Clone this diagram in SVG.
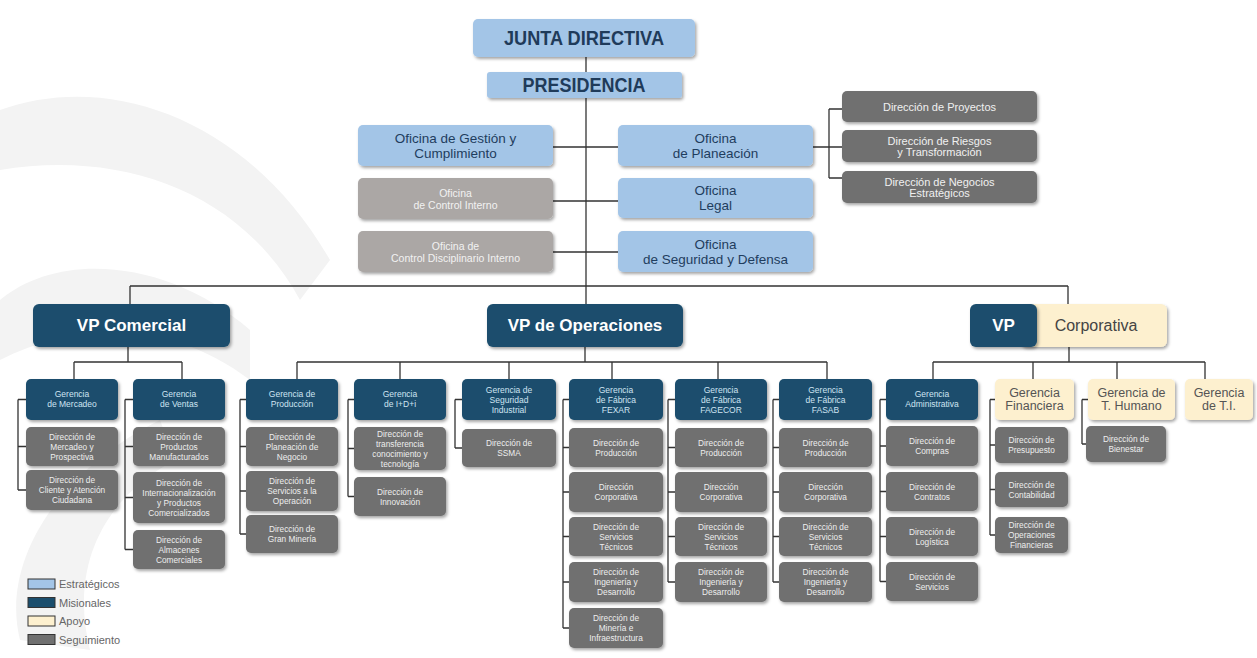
<svg xmlns="http://www.w3.org/2000/svg" width="1257" height="658" viewBox="0 0 1257 658">
<defs>
<filter id="sh" x="-10%" y="-10%" width="130%" height="140%">
<feDropShadow dx="1.5" dy="2" stdDeviation="1.5" flood-color="#000" flood-opacity="0.35"/>
</filter>
<style>
.s{fill:#a3c5e7;filter:url(#sh)}
.m{fill:#1b4e6d;filter:url(#sh)}
.a{fill:#fdf0cf;filter:url(#sh)}
.g{fill:#707070;filter:url(#sh)}
.lg{fill:#aba7a5;filter:url(#sh)}
.c{fill:none;stroke:#333;stroke-width:1.3}
text{font-family:"Liberation Sans",Arial,sans-serif;text-anchor:middle}
.h{font-weight:bold;fill:#1f3b5a;font-size:20px}
.o{fill:#1f3d5e;font-size:13.5px}
.og{fill:#f2f2f2;font-size:10.5px}
.dp{fill:#f0f0f0;font-size:11px}
.vp{fill:#fff;font-weight:bold;font-size:17px}
.gm{fill:#cfe4f2;font-size:8.5px}
.d{fill:#eeeeee;font-size:8.3px}
.ga{fill:#555;font-size:12.5px}
.lt{fill:#666;font-size:11px;text-anchor:start}
.sw{stroke:#333;stroke-width:1}
</style>
</defs>
<rect width="1257" height="658" fill="#fff"/>
<g id="watermark" fill="#f3f3f3">
<path d="M0 110 C110 70 250 120 330 260 L300 300 C240 190 120 150 0 170 Z"/>
<path d="M0 300 C60 250 170 260 250 330 L250 380 C170 320 80 320 0 360 Z"/>
<path d="M20 640 C0 560 60 470 160 420 L175 460 C100 500 70 570 90 650 Z"/>
</g>

<g id="connectors" class="c">
<path d="M586 57 V305"/>
<path d="M553 147 H618 M553 201 H618 M553 252 H618"/>
<path d="M813 147 H829 M829 109 V178 M829 109 H842 M829 147 H842 M829 178 H842"/>
<path d="M130 286 H1068 M130 286 V304 M1068 286 V304"/>
<path d="M128 347 V362 M74 362 H182 M74 362 V379 M182 362 V379"/>
<path d="M585 347 V362 M297 362 H827 M297 362 V379 M400 362 V379 M509 362 V379 M612 362 V379 M718 362 V379 M827 362 V379"/>
<path d="M1069 347 V362 M933 362 H1205 M933 362 V379 M1033 362 V379 M1117 362 V379 M1205 362 V379"/>
<path d="M18 399.5 V490 M18 399.5 H26 M18 446.5 H26 M18 490 H26"/>
<path d="M125 399.5 V549.5 M125 399.5 H133 M125 446.5 H133 M125 497.5 H133 M125 549.5 H133"/>
<path d="M240 399.5 V534 M240 399.5 H246 M240 446.5 H246 M240 491 H246 M240 534 H246"/>
<path d="M348 399.5 V496.5 M348 399.5 H354 M348 448.5 H354 M348 496.5 H354"/>
<path d="M455 399.5 V448 M455 399.5 H462 M455 448 H462"/>
<path d="M563 399.5 V628 M563 399.5 H569 M563 447.5 H569 M563 492 H569 M563 536.5 H569 M563 582 H569 M563 628 H569"/>
<path d="M668 399.5 V582 M668 399.5 H675 M668 447.5 H675 M668 492 H675 M668 536.5 H675 M668 582 H675"/>
<path d="M773 399.5 V582 M773 399.5 H779 M773 447.5 H779 M773 492 H779 M773 536.5 H779 M773 582 H779"/>
<path d="M880 399.5 V581.5 M880 399.5 H886 M880 446 H886 M880 491.5 H886 M880 536.5 H886 M880 581.5 H886"/>
<path d="M990 399.5 V535 M990 399.5 H995 M990 445 H995 M990 489.5 H995 M990 535 H995"/>
<path d="M1082 399.5 V444 M1082 399.5 H1088 M1082 444 H1086"/>
</g>

<g id="junta"><rect class="s" x="473" y="19" width="222" height="38" rx="5"/><text class="h" x="584" y="45" textLength="160" lengthAdjust="spacingAndGlyphs">JUNTA DIRECTIVA</text></g>
<g id="presidencia"><rect class="s" x="487" y="72" width="195" height="26" rx="3"/><text class="h" x="584" y="92" font-size="19" textLength="123" lengthAdjust="spacingAndGlyphs">PRESIDENCIA</text></g>

<g id="of-gestion"><rect class="s" x="358" y="125" width="195" height="41" rx="5"/><text class="o" x="455.5"><tspan x="455.5" y="142.5">Oficina de Gestión y</tspan><tspan x="455.5" y="157.5">Cumplimiento</tspan></text></g>
<g id="of-planeacion"><rect class="s" x="618" y="125" width="195" height="41" rx="5"/><text class="o"><tspan x="715.5" y="142.5">Oficina</tspan><tspan x="715.5" y="157.5">de Planeación</tspan></text></g>
<g id="of-control"><rect class="lg" x="358" y="178" width="195" height="41" rx="5"/><text class="og"><tspan x="455.5" y="196.5">Oficina</tspan><tspan x="455.5" y="208.5">de Control Interno</tspan></text></g>
<g id="of-legal"><rect class="s" x="618" y="178" width="195" height="40" rx="5"/><text class="o"><tspan x="715.5" y="195">Oficina</tspan><tspan x="715.5" y="210">Legal</tspan></text></g>
<g id="of-disciplinario"><rect class="lg" x="358" y="231" width="195" height="41" rx="5"/><text class="og"><tspan x="455.5" y="249.5">Oficina de</tspan><tspan x="455.5" y="261.5">Control Disciplinario Interno</tspan></text></g>
<g id="of-seguridad"><rect class="s" x="618" y="231" width="195" height="41" rx="5"/><text class="o"><tspan x="715.5" y="248.5">Oficina</tspan><tspan x="715.5" y="263.5">de Seguridad y Defensa</tspan></text></g>

<g id="d-proyectos"><rect class="g" x="842" y="91" width="195" height="31" rx="5"/><text class="dp" x="939.5" y="110.5">Dirección de Proyectos</text></g>
<g id="d-riesgos"><rect class="g" x="842" y="130" width="195" height="32" rx="5"/><text class="dp"><tspan x="939.5" y="144.5">Dirección de Riesgos</tspan><tspan x="939.5" y="155.5">y Transformación</tspan></text></g>
<g id="d-negocios"><rect class="g" x="842" y="171" width="195" height="32" rx="5"/><text class="dp"><tspan x="939.5" y="185.5">Dirección de Negocios</tspan><tspan x="939.5" y="196.5">Estratégicos</tspan></text></g>

<g id="vp-comercial"><rect class="m" x="33" y="304" width="197" height="43" rx="6"/><text class="vp" x="131.5" y="331">VP Comercial</text></g>
<g id="vp-operaciones"><rect class="m" x="487" y="304" width="196" height="43" rx="6"/><text class="vp" x="585" y="331">VP de Operaciones</text></g>
<g id="vp-corporativa"><rect class="a" x="1020" y="304" width="147" height="43" rx="6"/><rect class="m" x="970" y="304" width="67" height="43" rx="6"/><text class="vp" x="1003.5" y="331">VP</text><text x="1096" y="331" fill="#444" font-size="16">Corporativa</text></g>

<g id="g-mercadeo"><rect class="m" x="26" y="379" width="92" height="41" rx="5"/><text class="gm"><tspan x="72" y="396.5">Gerencia</tspan><tspan x="72" y="406.5">de Mercadeo</tspan></text></g>
<g id="d-mercadeo"><rect class="g" x="26" y="427" width="92" height="39" rx="5"/><text class="d"><tspan x="72" y="439.5">Dirección de</tspan><tspan x="72" y="449.5">Mercadeo y</tspan><tspan x="72" y="459.5">Prospectiva</tspan></text></g>
<g id="d-cliente"><rect class="g" x="26" y="470" width="92" height="40" rx="5"/><text class="d"><tspan x="72" y="483">Dirección de</tspan><tspan x="72" y="493">Cliente y Atención</tspan><tspan x="72" y="503">Ciudadana</tspan></text></g>
<g id="g-ventas"><rect class="m" x="133" y="379" width="92" height="41" rx="5"/><text class="gm"><tspan x="179" y="396.5">Gerencia</tspan><tspan x="179" y="406.5">de Ventas</tspan></text></g>
<g id="d-productos"><rect class="g" x="133" y="427" width="92" height="39" rx="5"/><text class="d"><tspan x="179" y="439.5">Dirección de</tspan><tspan x="179" y="449.5">Productos</tspan><tspan x="179" y="459.5">Manufacturados</tspan></text></g>
<g id="d-internacional"><rect class="g" x="133" y="472" width="92" height="51" rx="5"/><text class="d"><tspan x="179" y="485.5">Dirección de</tspan><tspan x="179" y="495.5">Internacionalización</tspan><tspan x="179" y="505.5">y Productos</tspan><tspan x="179" y="515.5">Comercializados</tspan></text></g>
<g id="d-almacenes"><rect class="g" x="133" y="530" width="92" height="39" rx="5"/><text class="d"><tspan x="179" y="542.5">Dirección de</tspan><tspan x="179" y="552.5">Almacenes</tspan><tspan x="179" y="562.5">Comerciales</tspan></text></g>

<g id="g-produccion"><rect class="m" x="246" y="379" width="92" height="41" rx="5"/><text class="gm"><tspan x="292" y="396.5">Gerencia de</tspan><tspan x="292" y="406.5">Producción</tspan></text></g>
<g id="d-planeacion-neg"><rect class="g" x="246" y="427" width="92" height="39" rx="5"/><text class="d"><tspan x="292" y="439.5">Dirección de</tspan><tspan x="292" y="449.5">Planeación de</tspan><tspan x="292" y="459.5">Negocio</tspan></text></g>
<g id="d-servicios-op"><rect class="g" x="246" y="471" width="92" height="40" rx="5"/><text class="d"><tspan x="292" y="484">Dirección de</tspan><tspan x="292" y="494">Servicios a la</tspan><tspan x="292" y="504">Operación</tspan></text></g>
<g id="d-gran-mineria"><rect class="g" x="246" y="515" width="92" height="38" rx="5"/><text class="d"><tspan x="292" y="532">Dirección de</tspan><tspan x="292" y="542">Gran Minería</tspan></text></g>

<g id="g-idi"><rect class="m" x="354" y="379" width="92" height="41" rx="5"/><text class="gm"><tspan x="400" y="396.5">Gerencia</tspan><tspan x="400" y="406.5">de I+D+i</tspan></text></g>
<g id="d-transferencia"><rect class="g" x="354" y="427" width="92" height="43" rx="5"/><text class="d"><tspan x="400" y="436.5">Dirección de</tspan><tspan x="400" y="446.5">transferencia</tspan><tspan x="400" y="456.5">conocimiento y</tspan><tspan x="400" y="466.5">tecnología</tspan></text></g>
<g id="d-innovacion"><rect class="g" x="354" y="477" width="92" height="39" rx="5"/><text class="d"><tspan x="400" y="494.5">Dirección de</tspan><tspan x="400" y="504.5">Innovación</tspan></text></g>

<g id="g-seguridad"><rect class="m" x="462" y="379" width="94" height="41" rx="5"/><text class="gm"><tspan x="509" y="392.5">Gerencia de</tspan><tspan x="509" y="402.5">Seguridad</tspan><tspan x="509" y="412.5">Industrial</tspan></text></g>
<g id="d-ssma"><rect class="g" x="462" y="429" width="94" height="38" rx="5"/><text class="d"><tspan x="509" y="446">Dirección de</tspan><tspan x="509" y="456">SSMA</tspan></text></g>

<g id="g-fexar"><rect class="m" x="569" y="379" width="94" height="41" rx="5"/><text class="gm"><tspan x="616" y="392.5">Gerencia</tspan><tspan x="616" y="402.5">de Fábrica</tspan><tspan x="616" y="412.5">FEXAR</tspan></text></g>
<g id="fexar-prod"><rect class="g" x="569" y="428" width="94" height="39" rx="5"/><text class="d"><tspan x="616" y="445.5">Dirección de</tspan><tspan x="616" y="455.5">Producción</tspan></text></g>
<g id="fexar-corp"><rect class="g" x="569" y="472" width="94" height="40" rx="5"/><text class="d"><tspan x="616" y="490">Dirección</tspan><tspan x="616" y="500">Corporativa</tspan></text></g>
<g id="fexar-serv"><rect class="g" x="569" y="517" width="94" height="39" rx="5"/><text class="d"><tspan x="616" y="529.5">Dirección de</tspan><tspan x="616" y="539.5">Servicios</tspan><tspan x="616" y="549.5">Técnicos</tspan></text></g>
<g id="fexar-ing"><rect class="g" x="569" y="562" width="94" height="40" rx="5"/><text class="d"><tspan x="616" y="575">Dirección de</tspan><tspan x="616" y="585">Ingeniería y</tspan><tspan x="616" y="595">Desarrollo</tspan></text></g>
<g id="fexar-min"><rect class="g" x="569" y="608" width="94" height="40" rx="5"/><text class="d"><tspan x="616" y="621">Dirección de</tspan><tspan x="616" y="631">Minería e</tspan><tspan x="616" y="641">Infraestructura</tspan></text></g>

<g id="g-fagecor"><rect class="m" x="675" y="379" width="92" height="41" rx="5"/><text class="gm"><tspan x="721" y="392.5">Gerencia</tspan><tspan x="721" y="402.5">de Fábrica</tspan><tspan x="721" y="412.5">FAGECOR</tspan></text></g>
<g id="fagecor-prod"><rect class="g" x="675" y="428" width="92" height="39" rx="5"/><text class="d"><tspan x="721" y="445.5">Dirección de</tspan><tspan x="721" y="455.5">Producción</tspan></text></g>
<g id="fagecor-corp"><rect class="g" x="675" y="472" width="92" height="40" rx="5"/><text class="d"><tspan x="721" y="490">Dirección</tspan><tspan x="721" y="500">Corporativa</tspan></text></g>
<g id="fagecor-serv"><rect class="g" x="675" y="517" width="92" height="39" rx="5"/><text class="d"><tspan x="721" y="529.5">Dirección de</tspan><tspan x="721" y="539.5">Servicios</tspan><tspan x="721" y="549.5">Técnicos</tspan></text></g>
<g id="fagecor-ing"><rect class="g" x="675" y="562" width="92" height="40" rx="5"/><text class="d"><tspan x="721" y="575">Dirección de</tspan><tspan x="721" y="585">Ingeniería y</tspan><tspan x="721" y="595">Desarrollo</tspan></text></g>

<g id="g-fasab"><rect class="m" x="779" y="379" width="93" height="41" rx="5"/><text class="gm"><tspan x="825.5" y="392.5">Gerencia</tspan><tspan x="825.5" y="402.5">de Fábrica</tspan><tspan x="825.5" y="412.5">FASAB</tspan></text></g>
<g id="fasab-prod"><rect class="g" x="779" y="428" width="93" height="39" rx="5"/><text class="d"><tspan x="825.5" y="445.5">Dirección de</tspan><tspan x="825.5" y="455.5">Producción</tspan></text></g>
<g id="fasab-corp"><rect class="g" x="779" y="472" width="93" height="40" rx="5"/><text class="d"><tspan x="825.5" y="490">Dirección</tspan><tspan x="825.5" y="500">Corporativa</tspan></text></g>
<g id="fasab-serv"><rect class="g" x="779" y="517" width="93" height="39" rx="5"/><text class="d"><tspan x="825.5" y="529.5">Dirección de</tspan><tspan x="825.5" y="539.5">Servicios</tspan><tspan x="825.5" y="549.5">Técnicos</tspan></text></g>
<g id="fasab-ing"><rect class="g" x="779" y="562" width="93" height="40" rx="5"/><text class="d"><tspan x="825.5" y="575">Dirección de</tspan><tspan x="825.5" y="585">Ingeniería y</tspan><tspan x="825.5" y="595">Desarrollo</tspan></text></g>

<g id="g-administrativa"><rect class="m" x="886" y="379" width="92" height="41" rx="5"/><text class="gm"><tspan x="932" y="396.5">Gerencia</tspan><tspan x="932" y="406.5">Administrativa</tspan></text></g>
<g id="d-compras"><rect class="g" x="886" y="426" width="92" height="40" rx="5"/><text class="d"><tspan x="932" y="444">Dirección de</tspan><tspan x="932" y="454">Compras</tspan></text></g>
<g id="d-contratos"><rect class="g" x="886" y="472" width="92" height="39" rx="5"/><text class="d"><tspan x="932" y="489.5">Dirección de</tspan><tspan x="932" y="499.5">Contratos</tspan></text></g>
<g id="d-logistica"><rect class="g" x="886" y="517" width="92" height="39" rx="5"/><text class="d"><tspan x="932" y="534.5">Dirección de</tspan><tspan x="932" y="544.5">Logística</tspan></text></g>
<g id="d-servicios"><rect class="g" x="886" y="562" width="92" height="39" rx="5"/><text class="d"><tspan x="932" y="579.5">Dirección de</tspan><tspan x="932" y="589.5">Servicios</tspan></text></g>

<g id="g-financiera"><rect class="a" x="995" y="379" width="79" height="41" rx="5"/><text class="ga"><tspan x="1034.5" y="397">Gerencia</tspan><tspan x="1034.5" y="410">Financiera</tspan></text></g>
<g id="d-presupuesto"><rect class="g" x="995" y="427" width="73" height="36" rx="5"/><text class="d"><tspan x="1031.5" y="443">Dirección de</tspan><tspan x="1031.5" y="453">Presupuesto</tspan></text></g>
<g id="d-contabilidad"><rect class="g" x="995" y="472" width="73" height="35" rx="5"/><text class="d"><tspan x="1031.5" y="487.5">Dirección de</tspan><tspan x="1031.5" y="497.5">Contabilidad</tspan></text></g>
<g id="d-op-financieras"><rect class="g" x="995" y="517" width="73" height="36" rx="5"/><text class="d"><tspan x="1031.5" y="528">Dirección de</tspan><tspan x="1031.5" y="538">Operaciones</tspan><tspan x="1031.5" y="548">Financieras</tspan></text></g>

<g id="g-thumano"><rect class="a" x="1088" y="379" width="87" height="41" rx="5"/><text class="ga"><tspan x="1131.5" y="397">Gerencia de</tspan><tspan x="1131.5" y="410">T. Humano</tspan></text></g>
<g id="d-bienestar"><rect class="g" x="1086" y="426" width="80" height="36" rx="5"/><text class="d"><tspan x="1126" y="442">Dirección de</tspan><tspan x="1126" y="452">Bienestar</tspan></text></g>

<g id="g-ti"><rect class="a" x="1185" y="379" width="68" height="41" rx="5"/><text class="ga"><tspan x="1219" y="397">Gerencia</tspan><tspan x="1219" y="410">de T.I.</tspan></text></g>

<g id="legend">
<rect class="sw" x="28" y="579" width="27" height="10" fill="#a3c5e7"/>
<rect class="sw" x="28" y="597.5" width="27" height="10" fill="#1b4e6d"/>
<rect class="sw" x="28" y="616" width="27" height="10" fill="#fdf0cf"/>
<rect class="sw" x="28" y="634.5" width="27" height="10" fill="#707070"/>
<text class="lt" x="59" y="588">Estratégicos</text>
<text class="lt" x="59" y="606.5">Misionales</text>
<text class="lt" x="59" y="625">Apoyo</text>
<text class="lt" x="59" y="643.5">Seguimiento</text>
</g>
</svg>
